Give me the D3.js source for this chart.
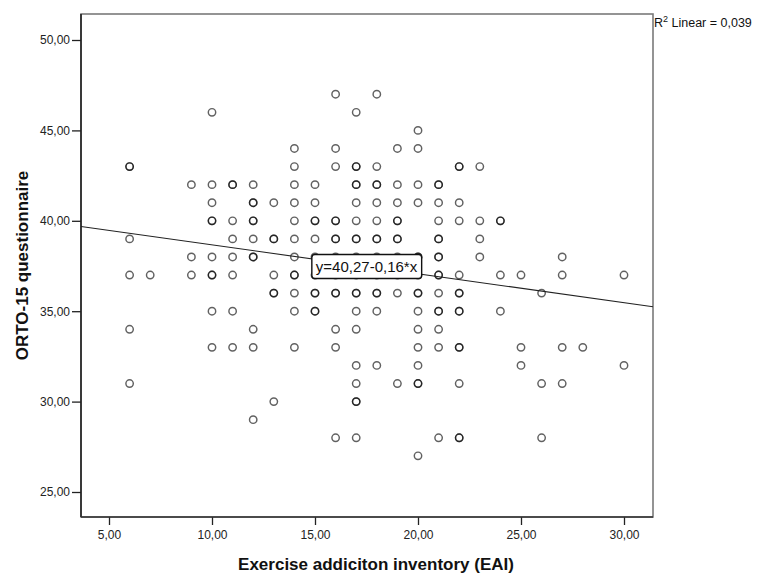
<!DOCTYPE html>
<html>
<head>
<meta charset="utf-8">
<script src="https://cdn.jsdelivr.net/npm/d3@7"></script>
<style>
  html, body { margin: 0; padding: 0; background: #fff; }
  svg { display: block; }
</style>
</head>
<body>
<svg id="chart" width="757" height="574"></svg>
<script>
// ---- data ----
const eaiScores = [6, 7, 9, 10, 11, 12, 13, 14, 15, 16, 17, 18, 19, 20, 21, 22, 23, 24, 25, 26, 27, 28, 30];
const ortoScores = [
  [43, 43, 39, 37, 34, 31],
  [37],
  [42, 38, 37],
  [46, 42, 41, 40, 40, 38, 37, 37, 35, 33],
  [42, 42, 40, 39, 38, 37, 35, 33],
  [42, 41, 41, 40, 40, 39, 38, 38, 34, 33, 29],
  [41, 39, 39, 37, 36, 36, 30],
  [44, 43, 42, 41, 40, 39, 38, 37, 37, 36, 35, 33],
  [42, 41, 40, 40, 39, 38, 37, 36, 36, 35, 35],
  [47, 44, 43, 40, 40, 39, 39, 38, 37, 36, 36, 34, 33, 28],
  [46, 43, 43, 42, 42, 41, 40, 39, 39, 38, 37, 36, 36, 35, 34, 32, 31, 30, 30, 28],
  [47, 43, 42, 42, 41, 40, 39, 39, 38, 37, 36, 36, 35, 32],
  [44, 42, 41, 40, 40, 39, 39, 38, 37, 36, 31],
  [45, 44, 42, 41, 38, 38, 37, 36, 36, 35, 34, 33, 32, 31, 31, 27],
  [42, 42, 41, 40, 39, 39, 38, 38, 37, 37, 36, 35, 35, 34, 33, 28],
  [43, 43, 41, 40, 37, 36, 36, 35, 35, 33, 33, 31, 28, 28],
  [43, 40, 39, 38],
  [40, 40, 37, 35],
  [37, 33, 32],
  [36, 31, 28],
  [38, 37, 33, 31],
  [33],
  [37, 32]
];
const xTicks = [5, 10, 15, 20, 25, 30];
const yTicks = [25, 30, 35, 40, 45, 50];
const fitIntercept = 40.27;
const fitSlope = -0.16;
const fitLabel = "y=40,27-0,16*x";
const r2Value = "0,039";
const xTitle = "Exercise addiciton inventory (EAI)";
const yTitle = "ORTO-15 questionnaire";

// ---- layout ----
const plot = { left: 81, right: 653, top: 14, bottom: 517 };
const x = d3.scaleLinear().domain([5, 30]).range([109, 624]);
const y = d3.scaleLinear().domain([25, 50]).range([492, 40]);
const fmt = v => d3.format(".2f")(v).replace(".", ",");
const font = "'Liberation Sans', Arial, sans-serif";

const svg = d3.select("#chart");

const points = [];
eaiScores.forEach((e, i) => ortoScores[i].forEach(o => points.push({ e, o })));

// frame (top/right)
svg.append("rect")
  .attr("x", plot.left).attr("y", plot.top)
  .attr("width", plot.right - plot.left).attr("height", plot.bottom - plot.top)
  .attr("fill", "none").attr("stroke", "#7a7a7a").attr("stroke-width", 1.6);

// clip
svg.append("clipPath").attr("id", "clip")
  .append("rect").attr("x", plot.left).attr("y", plot.top)
  .attr("width", plot.right - plot.left).attr("height", plot.bottom - plot.top);

// points
svg.append("g").selectAll("circle").data(points).join("circle")
  .attr("cx", d => x(d.e)).attr("cy", d => y(d.o)).attr("r", 3.7)
  .attr("fill", "none").attr("stroke", "#000").attr("stroke-opacity", 0.62)
  .attr("stroke-width", 1.45);

// fit line
const x0 = x.invert(plot.left), x1 = x.invert(plot.right);
svg.append("line").attr("clip-path", "url(#clip)")
  .attr("x1", x(x0)).attr("y1", y(fitIntercept + fitSlope * x0))
  .attr("x2", x(x1)).attr("y2", y(fitIntercept + fitSlope * x1))
  .attr("stroke", "#222").attr("stroke-width", 1.1);

// fit label
const midX = (5 + 30) / 2;
const lg = svg.append("g").attr("transform", `translate(${x(midX)},${y(fitIntercept + fitSlope * midX)})`);
const lbox = lg.append("rect");
const ltxt = lg.append("text").text(fitLabel)
  .attr("font-family", font).attr("font-size", 15).attr("fill", "#111")
  .attr("text-anchor", "middle").attr("dy", "0.36em");
const bb = ltxt.node().getBBox();
lbox.attr("x", bb.x - 4).attr("y", -12).attr("width", bb.width + 8).attr("height", 24)
  .attr("rx", 3).attr("fill", "#fff").attr("stroke", "#111").attr("stroke-width", 1.4);

// axes
const xAxis = svg.append("g").attr("transform", `translate(0,${plot.bottom})`)
  .call(d3.axisBottom(x).tickValues(xTicks).tickFormat(fmt).tickSize(8).tickPadding(5));
const yAxis = svg.append("g").attr("transform", `translate(${plot.left},0)`)
  .call(d3.axisLeft(y).tickValues(yTicks).tickFormat(fmt).tickSize(9).tickPadding(2));
[xAxis, yAxis].forEach(g => {
  g.select(".domain").remove();
  g.selectAll("line").attr("stroke", "#222").attr("stroke-width", 1.3);
  g.selectAll("text").attr("font-family", font).attr("font-size", 12).attr("fill", "#222");
});
svg.append("line").attr("x1", plot.left).attr("x2", plot.left).attr("y1", plot.top).attr("y2", plot.bottom)
  .attr("stroke", "#222").attr("stroke-width", 1.6);
svg.append("line").attr("x1", plot.left).attr("x2", plot.right).attr("y1", plot.bottom).attr("y2", plot.bottom)
  .attr("stroke", "#333").attr("stroke-width", 1.6);

// titles
svg.append("text").text(xTitle)
  .attr("x", 376).attr("y", 570)
  .attr("text-anchor", "middle").attr("font-family", font).attr("font-weight", "bold")
  .attr("font-size", 17).attr("fill", "#111");
svg.append("text").text(yTitle)
  .attr("transform", `translate(28,${(plot.top + plot.bottom) / 2}) rotate(-90)`)
  .attr("text-anchor", "middle").attr("font-family", font).attr("font-weight", "bold")
  .attr("font-size", 17).attr("fill", "#111");

// R2 label
const r2 = svg.append("text").attr("x", 654).attr("y", 26.5)
  .attr("font-family", font).attr("font-size", 12.5).attr("fill", "#111");
r2.append("tspan").text("R");
r2.append("tspan").text("2").attr("font-size", 9).attr("dy", -5);
r2.append("tspan").text(" Linear = " + r2Value).attr("dy", 5);
</script>
</body>
</html>
